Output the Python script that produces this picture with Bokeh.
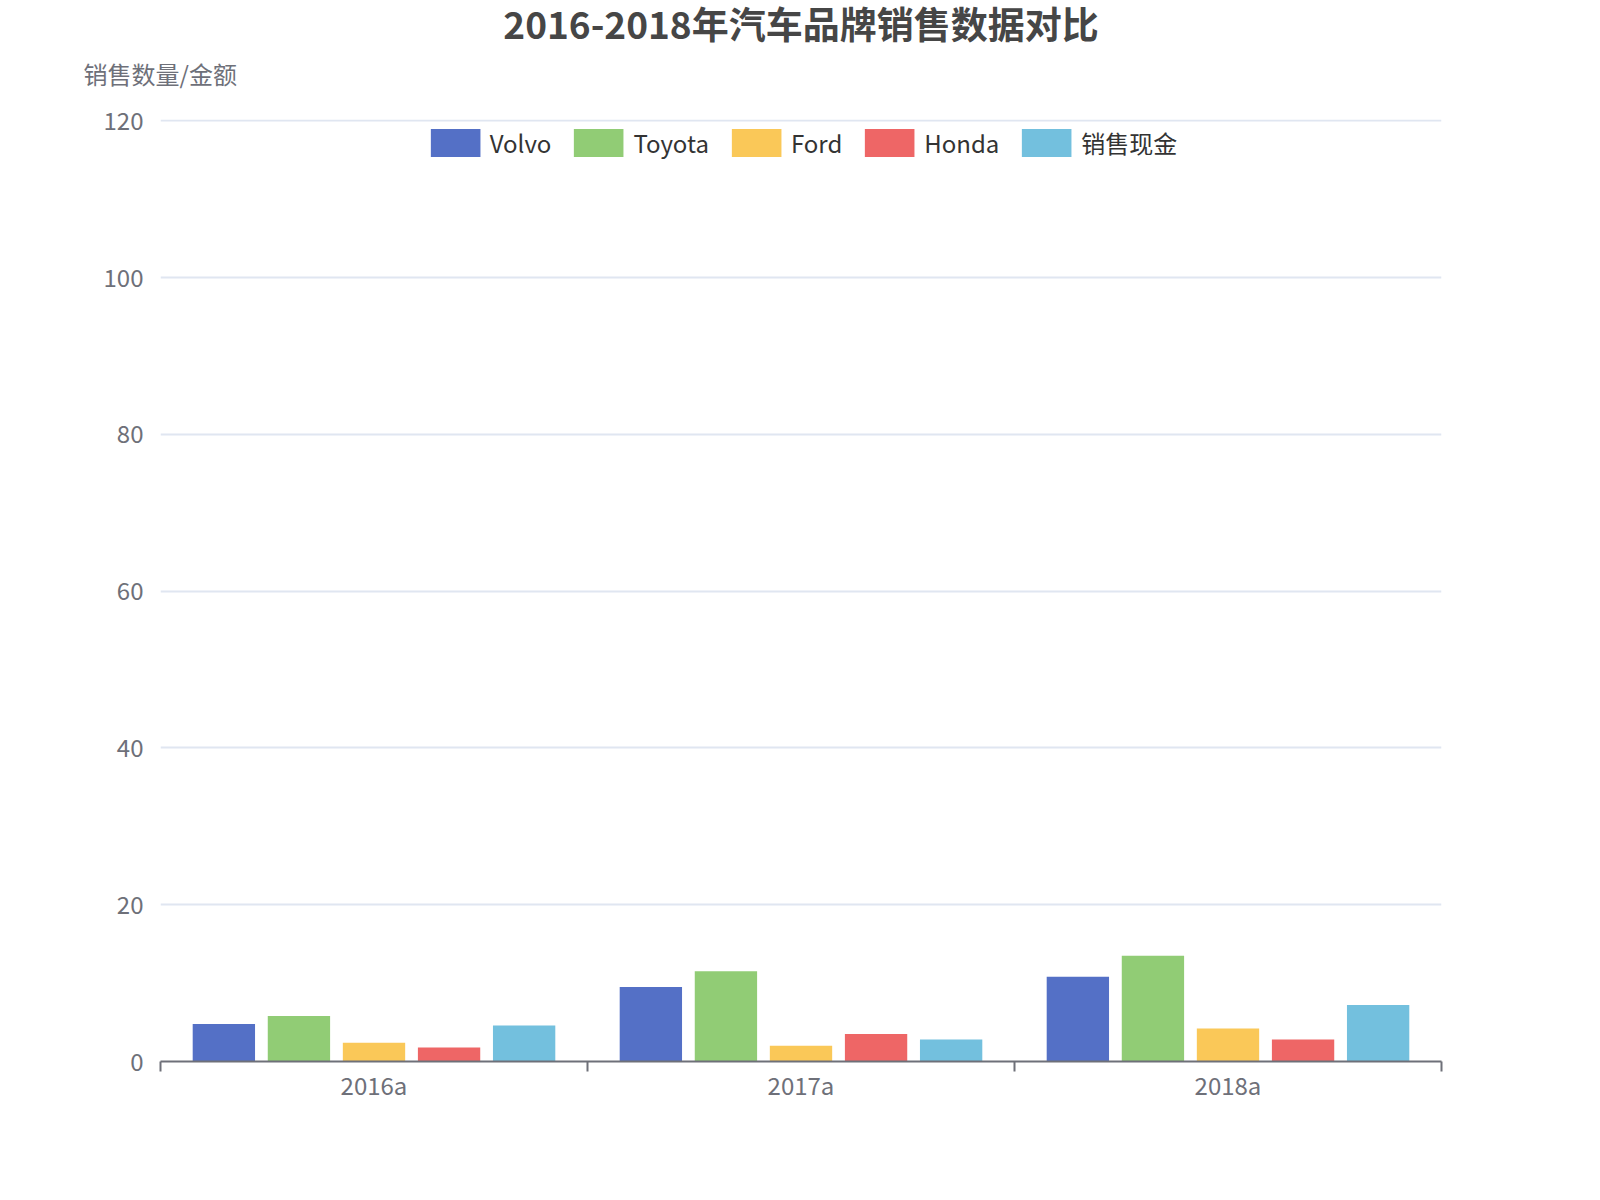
from bokeh.plotting import figure
from bokeh.models import Range1d, FixedTicker, Legend, LegendItem, Title, ColumnDataSource
from bokeh.embed import file_html
from bokeh.resources import INLINE

# ---- data ----
categories = ["2016a", "2017a", "2018a"]
series_names = ["Volvo", "Toyota", "Ford", "Honda", "销售现金"]
volvo = [4.8, 9.5, 10.8]
toyota = [5.8, 11.5, 13.5]
ford = [2.4, 2.0, 4.2]
honda = [1.8, 3.5, 2.8]
cash = [4.6, 2.8, 7.2]
y_ticks = [0, 20, 40, 60, 80, 100, 120]
title_text = "2016-2018年汽车品牌销售数据对比"
y_name = "销售数量/金额"

colors = ["#5470c6", "#91cc75", "#fac858", "#ee6666", "#73c0de"]
FONT = "Noto Sans CJK SC"
AXIS_COLOR = "#6E7079"

W, H = 1580, 1170
p = figure(width=W, height=H, title=None,
           x_range=Range1d(0, len(categories)), y_range=Range1d(0, 120.19),
           output_backend="svg", toolbar_location=None,
           min_border_left=160, min_border_right=139,
           min_border_top=119, min_border_bottom=109)
p.outline_line_color = None
p.background_fill_color = "white"
p.border_fill_color = "white"

bar_w = 0.146
step = 0.1758
series = [volvo, toyota, ford, honda, cash]
items = []
for i, (name, vals, col) in enumerate(zip(series_names, series, colors)):
    xs = [j + 0.5 + (i - 2) * step for j in range(len(categories))]
    src = ColumnDataSource(dict(x=xs, top=vals))
    r = p.vbar(x="x", top="top", bottom=0, width=bar_w, source=src,
               fill_color=col, line_color=None)
    items.append(LegendItem(label=name, renderers=[r]))

legend = Legend(items=items, orientation="horizontal", location="top_center",
                glyph_width=62, glyph_height=35, spacing=16, label_standoff=4,
                label_text_font=FONT, label_text_font_size="24px",
                label_text_color="#333333", label_text_baseline="middle",
                label_height=35,
                border_line_color=None, background_fill_alpha=0,
                margin=6, padding=6)
p.add_layout(legend, "center")

# x axis
xa = p.xaxis[0]
xa.ticker = FixedTicker(ticks=[j + 0.5 for j in range(len(categories))],
                        minor_ticks=list(range(len(categories) + 1)))
xa.major_label_overrides = {j + 0.5: c for j, c in enumerate(categories)}
xa.axis_line_color = AXIS_COLOR
xa.axis_line_width = 2
xa.major_tick_line_color = None
xa.major_tick_out = 0
xa.major_tick_in = 0
xa.minor_tick_line_color = AXIS_COLOR
xa.minor_tick_line_width = 2
xa.minor_tick_out = 10
xa.minor_tick_in = 0
xa.major_label_text_font = FONT
xa.major_label_text_font_size = "24px"
xa.major_label_text_color = AXIS_COLOR
xa.major_label_standoff = -5

# y axis
ya = p.yaxis[0]
ya.ticker = FixedTicker(ticks=y_ticks)
ya.axis_line_color = None
ya.major_tick_line_color = None
ya.minor_tick_line_color = None
ya.major_tick_out = 0
ya.major_tick_in = 0
ya.major_label_text_font = FONT
ya.major_label_text_font_size = "24px"
ya.major_label_text_color = AXIS_COLOR
ya.major_label_standoff = 17

p.xgrid.visible = False
p.ygrid.ticker = FixedTicker(ticks=y_ticks)
p.ygrid.grid_line_color = "#E0E6F1"
p.ygrid.grid_line_width = 2

# axis name (closest to frame), then main title (outermost)
name_title = Title(text=y_name, align="left", offset=-77, standoff=58,
                   text_font=FONT, text_font_size="24px",
                   text_font_style="normal", text_color=AXIS_COLOR)
p.add_layout(name_title, "above")
main_title = Title(text=title_text, align="center", standoff=-51,
                   text_font=FONT, text_font_size="37px",
                   text_font_style="bold", text_color="#464646")
p.add_layout(main_title, "above")

open("out.html", "w").write(file_html(p, INLINE))
